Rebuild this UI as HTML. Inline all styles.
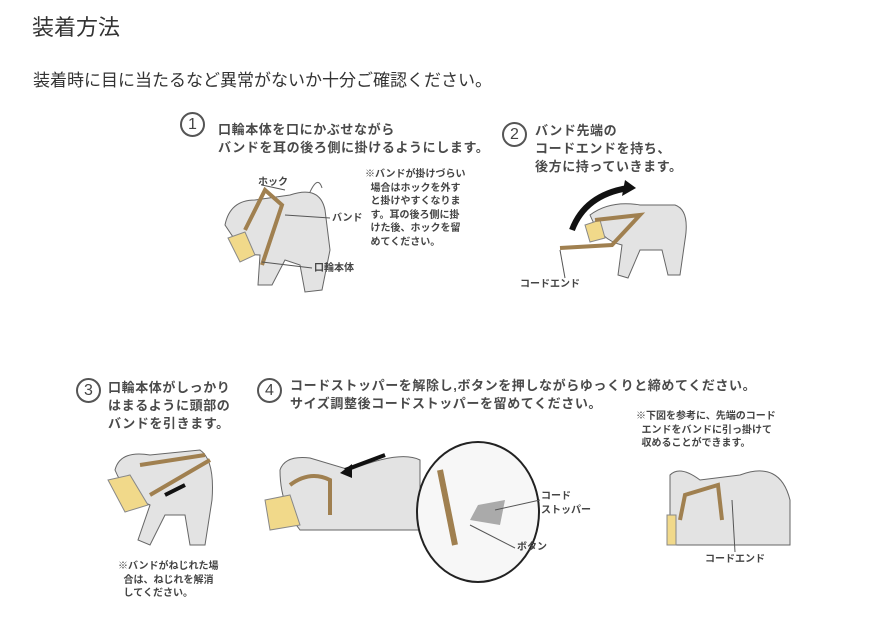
<!DOCTYPE html>
<html><head><meta charset="utf-8"><style>
body{margin:0;width:869px;height:628px;background:#fff;position:relative;overflow:hidden;font-family:"Liberation Sans","Noto Sans CJK JP",sans-serif;color:#333}
.t{position:absolute;white-space:nowrap}
.h{font-size:13px;font-weight:bold;color:#4a4a4a;line-height:18px;letter-spacing:0.6px}
.n{font-size:10px;font-weight:bold;color:#444;line-height:13.5px}
.c{position:absolute;border:2px solid #555;border-radius:50%;width:21px;height:21px;text-align:center;font-size:16px;line-height:21px;color:#444}
svg{position:absolute;left:0;top:0}
</style></head><body>
<div class="t" style="left:32px;top:10px;font-size:22px;color:#333">装着方法</div>
<div class="t" style="left:33px;top:66px;font-size:17px;color:#333">装着時に目に当たるなど異常がないか十分ご確認ください。</div>

<svg width="869" height="628">
<g fill="#e3e3e3" stroke="#666" stroke-width="1">
<path d="M225 225 Q230 200 255 200 L290 195 Q320 185 325 210 L330 250 L322 290 L305 292 L300 265 L285 260 L272 285 L258 285 L260 255 Q240 255 235 240 Z"/>
<path d="M310 192 Q318 175 322 188" fill="none"/>
<path d="M590 215 Q610 200 640 205 L675 205 Q690 210 685 240 L680 275 L668 275 L662 250 L640 250 L628 278 L618 275 L622 245 Q600 240 590 215Z"/>
<path d="M115 470 Q120 450 150 455 L200 450 Q215 460 212 500 L205 545 L190 545 L185 515 L165 515 L150 545 L138 540 L150 505 Q125 495 115 470Z"/>
<path d="M280 470 Q285 455 310 458 L350 470 Q400 450 420 460 L420 530 L300 530 Q280 505 280 470Z"/>
<path d="M670 475 Q680 465 700 480 L740 475 Q780 460 790 500 L790 545 L670 545 Z"/>
</g>
<g fill="#f1d98a" stroke="#888" stroke-width="1">
<path d="M228 238 L245 232 L255 255 L240 262 Z"/>
<path d="M585 225 L600 220 L605 238 L590 242Z"/>
<path d="M108 480 L130 475 L148 505 L125 512 Z"/>
<path d="M265 500 L290 495 L300 525 L270 530 Z"/>
<path d="M667 515 L676 515 L676 545 L667 545Z"/>
</g>
<g fill="none" stroke="#a08050" stroke-width="4">
<path d="M245 230 L265 190 L282 205 L262 265"/>
<path d="M595 220 L640 215 L612 245 L560 248"/>
<path d="M140 465 L205 455 M150 495 L210 460"/>
<path d="M290 485 Q310 470 330 480 L330 515"/>
<path d="M680 520 L685 495 L718 485 L722 520"/>
<path d="M440 470 L455 545"/>
</g>
<path d="M572 230 Q585 195 628 188" fill="none" stroke="#111" stroke-width="6"/>
<path d="M625 180 L636 188 L622 196Z" fill="#111"/>
<path d="M345 470 L385 455" stroke="#111" stroke-width="4"/>
<path d="M340 473 L352 464 L352 478Z" fill="#111"/>
<path d="M165 495 L185 485" stroke="#111" stroke-width="4"/>
<ellipse cx="478" cy="512" rx="61" ry="70" fill="#f7f7f7" stroke="#222" stroke-width="2"/>
<path d="M440 470 L455 545" stroke="#a08050" stroke-width="6"/>
<path d="M478 505 L505 500 L500 525 L470 520Z" fill="#aaa"/>
<g stroke="#555" stroke-width="1">
<line x1="285" y1="190" x2="262" y2="185"/><line x1="285" y1="215" x2="330" y2="218"/><line x1="262" y1="262" x2="312" y2="268"/>
<line x1="560" y1="250" x2="565" y2="278"/><line x1="495" y1="510" x2="540" y2="500"/><line x1="470" y1="525" x2="515" y2="548"/>
<line x1="732" y1="500" x2="735" y2="552"/>
</g>
</svg>

<div class="c" style="left:180px;top:112px">1</div>
<div class="t h" style="left:218px;top:121px">口輪本体を口にかぶせながら<br>バンドを耳の後ろ側に掛けるようにします。</div>
<div class="c" style="left:502px;top:122px">2</div>
<div class="t h" style="left:535px;top:122px">バンド先端の<br>コードエンドを持ち、<br>後方に持っていきます。</div>
<div class="t n" style="left:365px;top:168px">※バンドが掛けづらい<br>&nbsp;&nbsp;場合はホックを外す<br>&nbsp;&nbsp;と掛けやすくなりま<br>&nbsp;&nbsp;す。耳の後ろ側に掛<br>&nbsp;&nbsp;けた後、ホックを留<br>&nbsp;&nbsp;めてください。</div>
<div class="t n" style="left:258px;top:176px">ホック</div>
<div class="t n" style="left:332px;top:212px">バンド</div>
<div class="t n" style="left:314px;top:262px">口輪本体</div>
<div class="t n" style="left:520px;top:278px">コードエンド</div>

<div class="c" style="left:76px;top:378px">3</div>
<div class="t h" style="left:108px;top:379px">口輪本体がしっかり<br>はまるように頭部の<br>バンドを引きます。</div>
<div class="c" style="left:257px;top:378px">4</div>
<div class="t h" style="left:290px;top:377px">コードストッパーを解除し,ボタンを押しながらゆっくりと締めてください。<br>サイズ調整後コードストッパーを留めてください。</div>
<div class="t n" style="left:636px;top:410px">※下図を参考に、先端のコード<br>&nbsp;&nbsp;エンドをバンドに引っ掛けて<br>&nbsp;&nbsp;収めることができます。</div>
<div class="t n" style="left:541px;top:490px">コード<br>ストッパー</div>
<div class="t n" style="left:517px;top:541px">ボタン</div>
<div class="t n" style="left:705px;top:553px">コードエンド</div>
<div class="t n" style="left:118px;top:560px">※バンドがねじれた場<br>&nbsp;&nbsp;合は、ねじれを解消<br>&nbsp;&nbsp;してください。</div>
</body></html>
